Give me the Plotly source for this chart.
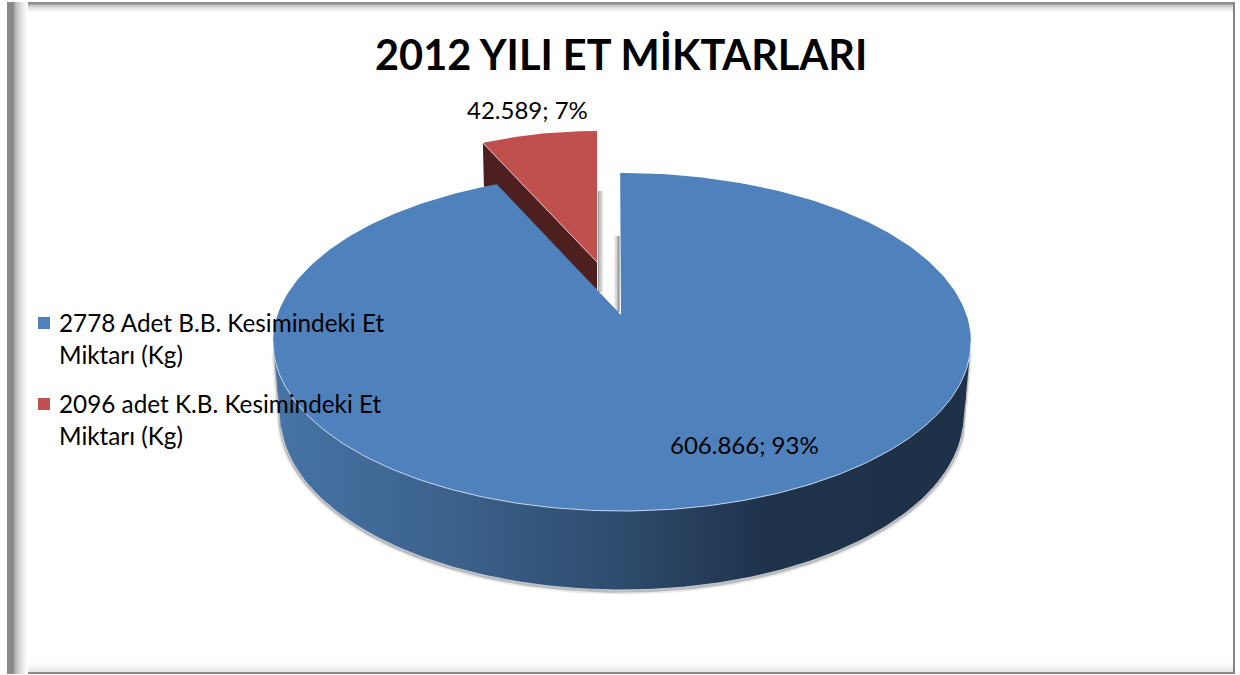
import numpy as np
import plotly.graph_objects as go

# ---- data ----
CATEGORIES = ["2778 Adet B.B. Kesimindeki Et<br>Miktarı (Kg)",
              "2096 adet K.B. Kesimindeki Et<br>Miktarı (Kg)"]
VALUES = [606866, 42589]
TITLE = "2012 YILI ET MİKTARLARI"
COLORS = ["#4F81BD", "#C0504D"]

total = sum(VALUES)
shares = [v / total for v in VALUES]
labels = [f"{v:,}".replace(",", ".") + f"; {round(s * 100)}%" for v, s in zip(VALUES, shares)]

FONT = "Lato, 'Open Sans', sans-serif"
W, H = 1240, 675

# ---- projection of the tilted pie on the page ----
BLUE_C = (622, 342); BLUE_R = (349, 169); BLUE_APEX = (621, 315)
BOTTOM_C = (622, 415); BOTTOM_R = (342, 175)
RED_C = (597, 274); RED_R = (285, 143); RED_APEX = (597, 262)
RED_DEPTH_RIM, RED_DEPTH_APEX = 43, 28
PERSPECTIVE = 1.0077   # on-screen sweep of the large slice
START_OFFSET = -0.3


def rim(center, radii, deg):
    t = np.radians(deg)
    return center[0] + radii[0] * np.sin(t), center[1] - radii[1] * np.cos(t)


fig = go.Figure()


def poly(x, y, fill, line=None, lw=0):
    fig.add_trace(go.Scatter(x=list(x), y=list(y), mode="lines", fill="toself", fillcolor=fill,
                             line=dict(color=line or fill, width=lw), showlegend=False, hoverinfo="skip"))


def stroke(x, y, color, lw):
    fig.add_trace(go.Scatter(x=list(x), y=list(y), mode="lines", line=dict(color=color, width=lw),
                             showlegend=False, hoverinfo="skip"))


sweep = shares[0] * 360

# exploded small slice: side wall then top
ex, ey = rim(RED_C, RED_R, sweep)
poly([ex, ex + 1, RED_APEX[0], RED_APEX[0]],
     [ey, ey + RED_DEPTH_RIM, RED_APEX[1] + RED_DEPTH_APEX, RED_APEX[1]], "#4D1F1E")
a = np.linspace(sweep, 360, 40)
rx, ry = rim(RED_C, RED_R, a)
poly(np.r_[RED_APEX[0], rx, RED_APEX[0]], np.r_[RED_APEX[1], ry, RED_APEX[1]], COLORS[1])
stroke([ex, RED_APEX[0]], [ey, RED_APEX[1]], "rgba(235,215,215,0.8)", 1)

# soft shadows in the gap between the slices
for i, col in enumerate(["#9c9c9c", "#b8b8b8", "#d4d4d4", "#ececec"]):
    poly([598 + i * 1.4, 599.4 + i * 1.4, 599.4 + i * 1.4, 598 + i * 1.4], [191, 191, 292, 292], col)
for i, col in enumerate(["#ececec", "#d4d4d4", "#b8b8b8", "#8c8c8c"]):
    poly([614 + i * 1.4, 615.4 + i * 1.4, 615.4 + i * 1.4, 614 + i * 1.4], [236, 236, 312, 312], col)

# outer shadow of the pie wall
t = np.linspace(90, 270, 181)
bx, by = rim(BOTTOM_C, BOTTOM_R, t)
sx = np.r_[BLUE_C[0] + BLUE_R[0] - 2, bx, BLUE_C[0] - BLUE_R[0] + 2]
sy = np.r_[BLUE_C[1] + 10, by, BLUE_C[1] + 10]
stroke(sx, sy + 1, "rgba(120,120,120,0.16)", 7)
stroke(sx, sy + 1, "rgba(90,90,90,0.32)", 3.5)


# wall of the large slice with a horizontal gradient
def lerp_colour(x):
    xs = [273, 460, 620, 770, 971]
    rs = [0x46, 0x3B, 0x2E, 0x1E, 0x1E]
    gs = [0x74, 0x60, 0x4B, 0x32, 0x31]
    bs = [0xA6, 0x8A, 0x6D, 0x4A, 0x49]
    return f"rgb({np.interp(x, xs, rs):.0f},{np.interp(x, xs, gs):.0f},{np.interp(x, xs, bs):.0f})"


def wall_bottom(x):
    dx = abs(x - BOTTOM_C[0])
    if dx <= BOTTOM_R[0]:
        return BOTTOM_C[1] + BOTTOM_R[1] * np.sqrt(1 - (dx / BOTTOM_R[0]) ** 2)
    f = (dx - BOTTOM_R[0]) / (BLUE_R[0] - BOTTOM_R[0])
    return BOTTOM_C[1] + (BLUE_C[1] - BOTTOM_C[1]) * min(f, 1)


def wall_top(x):
    dx = min(abs(x - BLUE_C[0]), BLUE_R[0])
    return BLUE_C[1] + BLUE_R[1] * np.sqrt(1 - (dx / BLUE_R[0]) ** 2) - 2


edges = np.arange(BLUE_C[0] - BLUE_R[0], BLUE_C[0] + BLUE_R[0] + 1, 4)
for x0, x1 in zip(edges[:-1], edges[1:]):
    xs = np.linspace(x0, min(x1 + 1, edges[-1]), 5)
    poly(np.r_[xs, xs[::-1]], np.r_[[wall_top(v) for v in xs], [wall_bottom(v) for v in xs[::-1]]],
         lerp_colour((x0 + x1) / 2))

# light edge along the foot of the wall
fx = np.linspace(BLUE_C[0] - BOTTOM_R[0] + 1, BLUE_C[0] + BOTTOM_R[0] - 1, 240)
stroke(fx, [wall_bottom(v) for v in fx], "rgba(225,232,240,0.75)", 1)

# top of the large slice
a = np.linspace(START_OFFSET, sweep * PERSPECTIVE, 361)
tx, ty = rim(BLUE_C, BLUE_R, a)
poly(np.r_[BLUE_APEX[0], tx, BLUE_APEX[0]], np.r_[BLUE_APEX[1], ty, BLUE_APEX[1]], COLORS[0])
a = np.linspace(90, 270, 181)
hx, hy = rim(BLUE_C, BLUE_R, a)
stroke(hx, hy, "rgba(225,235,245,0.85)", 1)

# frame drawn as gradient bands
shapes = []


def band(x0, y0, x1, y1, col):
    shapes.append(dict(type="rect", xref="x", yref="y", x0=x0, y0=y0, x1=x1, y1=y1,
                       fillcolor=col, line_width=0, layer="below"))


def grey(v):
    return f"rgb({v},{v},{v})"


band(7, 2, 1235, 674, "#ffffff")
for i in range(13):                                   # bottom fade
    band(7, 660 + i, 1235, 661 + i, grey(int(255 - 26 * (i / 12) ** 1.5)))
for i in range(9):                                    # top fade
    band(7, 4 + i, 1235, 5 + i, grey(int(165 + 90 * (i / 8) ** 0.5)))
band(7, 2, 1235, 4, "#8e8e8e")
band(7, 672, 1235, 674, "#8a8a8a")
band(1233, 2, 1235, 674, "#858585")
for i in range(15):                                   # left fade
    band(13 + i, 2, 14 + i, 674, grey(int(139 + 116 * (i / 14) ** 0.5)))
band(7, 2, 13, 674, "#8a8a8a")
for k, c in enumerate(COLORS):                        # legend keys
    y = [323, 404][k]
    shapes.append(dict(type="rect", xref="x", yref="y", x0=38, x1=50, y0=y - 6, y1=y + 6,
                       fillcolor=c, line_width=0))

annotations = [
    dict(x=621, y=53.5, text=f"<b>{TITLE}</b>", font=dict(size=41.5, color="#000000", family=FONT)),
    dict(x=527, y=109, text=labels[1], font=dict(size=24, color="#000000", family=FONT)),
    dict(x=744, y=444, text=labels[0], font=dict(size=24, color="#000000", family=FONT)),
]
for k, cat in enumerate(CATEGORIES):
    annotations.append(dict(x=57, y=[338, 419][k], text=cat, xanchor="left", align="left",
                            font=dict(size=24.3, color="#000000", family=FONT)))
for an in annotations:
    an.update(xref="x", yref="y", showarrow=False)
    an.setdefault("xanchor", "center")
    an.setdefault("yanchor", "middle")

fig.update_layout(
    width=W, height=H, margin=dict(l=0, r=0, t=0, b=0), paper_bgcolor="#ffffff", plot_bgcolor="#ffffff",
    showlegend=False, shapes=shapes, annotations=annotations,
    xaxis=dict(range=[0, W], visible=False, fixedrange=True),
    yaxis=dict(range=[H, 0], visible=False, fixedrange=True),
)
fig.write_html("out.html", post_script="document.body.style.margin='0';",
               config={"displayModeBar": False})
